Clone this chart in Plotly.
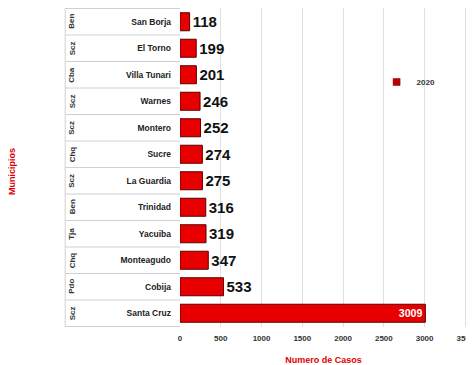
import plotly.graph_objects as go

municipios = ["San Borja", "El Torno", "Villa Tunari", "Warnes", "Montero", "Sucre",
              "La Guardia", "Trinidad", "Yacuiba", "Monteagudo", "Cobija", "Santa Cruz"]
regiones = ["Ben", "Scz", "Cba", "Scz", "Scz", "Chq", "Scz", "Ben", "Tja", "Chq", "Pdo", "Scz"]
casos_2020 = [118, 199, 201, 246, 252, 274, 275, 316, 319, 347, 533, 3009]
serie = "2020"
x_ticks = [0, 500, 1000, 1500, 2000, 2500, 3000, 3500]

text_pos = ["inside" if v > 1000 else "outside" for v in casos_2020]
FONT = "Liberation Sans"

fig = go.Figure()
fig.add_trace(go.Bar(
    x=casos_2020, y=municipios, orientation="h", name=serie,
    marker=dict(color="#e80000", line=dict(color="#5a0000", width=1)),
    width=0.68,
    text=[str(v) for v in casos_2020], textposition=text_pos,
    insidetextanchor="end",
    textfont=dict(family=FONT, size=15, weight="bold"),
    outsidetextfont=dict(color="#111111", family=FONT, size=15, weight="bold"),
    insidetextfont=dict(color="white", family=FONT, size=15, weight="bold"),
    cliponaxis=False,
    showlegend=False,
))
# legend entry (small square swatch, as in the reference)
fig.add_trace(go.Scatter(
    x=[None], y=[None], mode="markers", name=serie,
    marker=dict(symbol="square", size=7, color="#c00000", line=dict(color="#700000", width=0.5)),
    showlegend=True,
))

# label boxes (row dividers in the category area)
for i in range(len(municipios) + 1):
    fig.add_shape(type="line", xref="paper", yref="y", x0=-0.40, x1=0,
                  y0=i - 0.5, y1=i - 0.5, line=dict(color="#d0d0d0", width=1), layer="below")
fig.add_shape(type="line", xref="paper", yref="paper", x0=-0.40, x1=-0.40, y0=0, y1=1,
              line=dict(color="#d0d0d0", width=1))

for m, r in zip(municipios, regiones):
    fig.add_annotation(x=-0.376, xref="paper", y=m, yref="y", text=r, showarrow=False,
                       xanchor="center", textangle=-90,
                       font=dict(family=FONT, size=8, color="#333333", weight="bold"))

fig.add_annotation(x=-0.585, xref="paper", y=0.486, yref="paper", text="Municipios",
                   showarrow=False, textangle=-90, xanchor="center", yanchor="middle",
                   font=dict(family=FONT, size=9, color="#e00000", weight="bold"))

fig.update_layout(
    width=466, height=357,
    margin=dict(l=172, r=7, t=0, b=38, autoexpand=False),
    paper_bgcolor="white", plot_bgcolor="white",
    legend=dict(x=0.685, y=0.768, xanchor="left", yanchor="middle",
                bgcolor="rgba(0,0,0,0)", font=dict(family=FONT, size=8,
                                                   color="#333333", weight="bold"),
                itemwidth=30, tracegroupgap=0),
    xaxis=dict(range=[0, 3520], tickvals=x_ticks, showgrid=True, gridcolor="#e0e0e0",
               zeroline=False, showline=False, automargin=False,
               ticklabeloverflow="allow", ticklabelstandoff=5,
               tickfont=dict(family=FONT, size=8, color="#333333", weight="bold"),
               title=dict(text="Numero de Casos", standoff=14,
                          font=dict(family=FONT, size=9, color="#e00000", weight="bold"))),
    yaxis=dict(autorange="reversed", showgrid=False, zeroline=False, showline=False,
               ticklabelstandoff=8, automargin=False,
               tickfont=dict(family=FONT, size=8.5, color="#222222", weight="bold")),
)

fig.write_html("out.html")
